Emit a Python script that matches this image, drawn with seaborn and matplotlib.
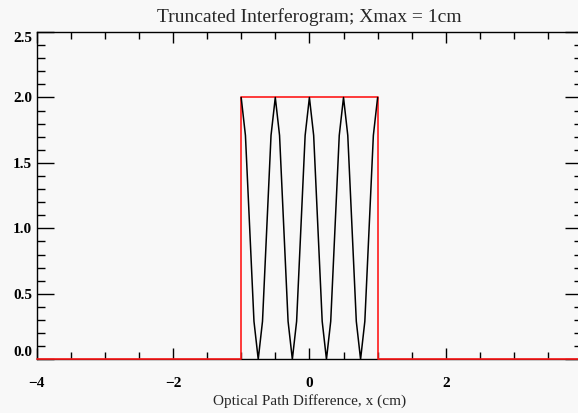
import matplotlib
matplotlib.use("Agg")
import matplotlib.pyplot as plt
import seaborn as sns
import pandas as pd
from matplotlib.ticker import MultipleLocator

# Truncated interferogram, Xmax = 1 cm
opd = [-1.0, -0.9375, -0.875, -0.8125, -0.75, -0.6875, -0.625, -0.5625,
       -0.5, -0.4375, -0.375, -0.3125, -0.25, -0.1875, -0.125, -0.0625,
       0.0, 0.0625, 0.125, 0.1875, 0.25, 0.3125, 0.375, 0.4375,
       0.5, 0.5625, 0.625, 0.6875, 0.75, 0.8125, 0.875, 0.9375, 1.0]
intensity = [2.0, 1.71, 1.0, 0.29, 0.0, 0.29, 1.0, 1.71,
             2.0, 1.71, 1.0, 0.29, 0.0, 0.29, 1.0, 1.71,
             2.0, 1.71, 1.0, 0.29, 0.0, 0.29, 1.0, 1.71,
             2.0, 1.71, 1.0, 0.29, 0.0, 0.29, 1.0, 1.71, 2.0]

# truncation (boxcar) window, scaled to 2
box_x = [-4.0, -1.0, -1.0, 1.0, 1.0, 4.0]
box_y = [0.0, 0.0, 2.0, 2.0, 0.0, 0.0]

y_ticks = [0.0, 0.5, 1.0, 1.5, 2.0, 2.5]
x_ticks = [-4, -2, 0, 2]

sns.set_style("ticks")
bg = "#f8f8f8"
serif = ["Liberation Serif", "DejaVu Serif"]

fig = plt.figure(figsize=(5.78, 4.13), dpi=100, facecolor=bg)
ax = fig.add_axes([36.5 / 578, 1 - 359.3 / 413, (582.3 - 36.5) / 578, (359.3 - 32) / 413])
ax.set_facecolor(bg)

sig = pd.DataFrame({"x": opd, "y": intensity})
win = pd.DataFrame({"x": box_x, "y": box_y})

sns.lineplot(data=win, x="x", y="y", sort=False, estimator=None, errorbar=None,
             color="#ff1a1a", lw=1.2, ax=ax, clip_on=False, zorder=4)
sns.lineplot(data=sig, x="x", y="y", sort=False, estimator=None, errorbar=None,
             color="black", lw=1.1, ax=ax, zorder=5)

ax.set_xlim(-4, 4)
ax.set_ylim(0, 2.5)
ax.set_xticks(x_ticks)
ax.set_yticks(y_ticks)
ax.xaxis.set_minor_locator(MultipleLocator(0.5))
ax.yaxis.set_minor_locator(MultipleLocator(0.1))

ax.tick_params(which="both", direction="in", top=True, right=True,
               colors="black", width=1.0)
ax.tick_params(axis="x", which="major", length=8, pad=13)
ax.tick_params(axis="x", which="minor", length=5)
ax.tick_params(axis="y", which="major", length=12, pad=3)
ax.tick_params(axis="y", which="minor", length=6)

ax.set_xticklabels(["\u22124", "\u22122", "0", "2"], family=serif,
                   fontsize=11, fontweight="bold")
ax.set_yticklabels([f"{v:.1f}" for v in y_ticks], family=serif,
                   fontsize=11, fontweight="bold")
ylabs = ax.get_yticklabels()
ylabs[0].set_va("bottom")
ylabs[-1].set_va("top")
for lab in ylabs[1:-1]:
    lab.set_va("center_baseline")

for s in ax.spines.values():
    s.set_linewidth(1.0)
    s.set_color("black")

ax.set_title("Truncated Interferogram; Xmax = 1cm", family=serif,
             fontsize=14, pad=7)
ax.set_xlabel("Optical Path Difference, x (cm)", family=serif,
              fontsize=11, labelpad=3)
ax.set_ylabel("")

fig.savefig("out.png", dpi=100, facecolor=bg)
